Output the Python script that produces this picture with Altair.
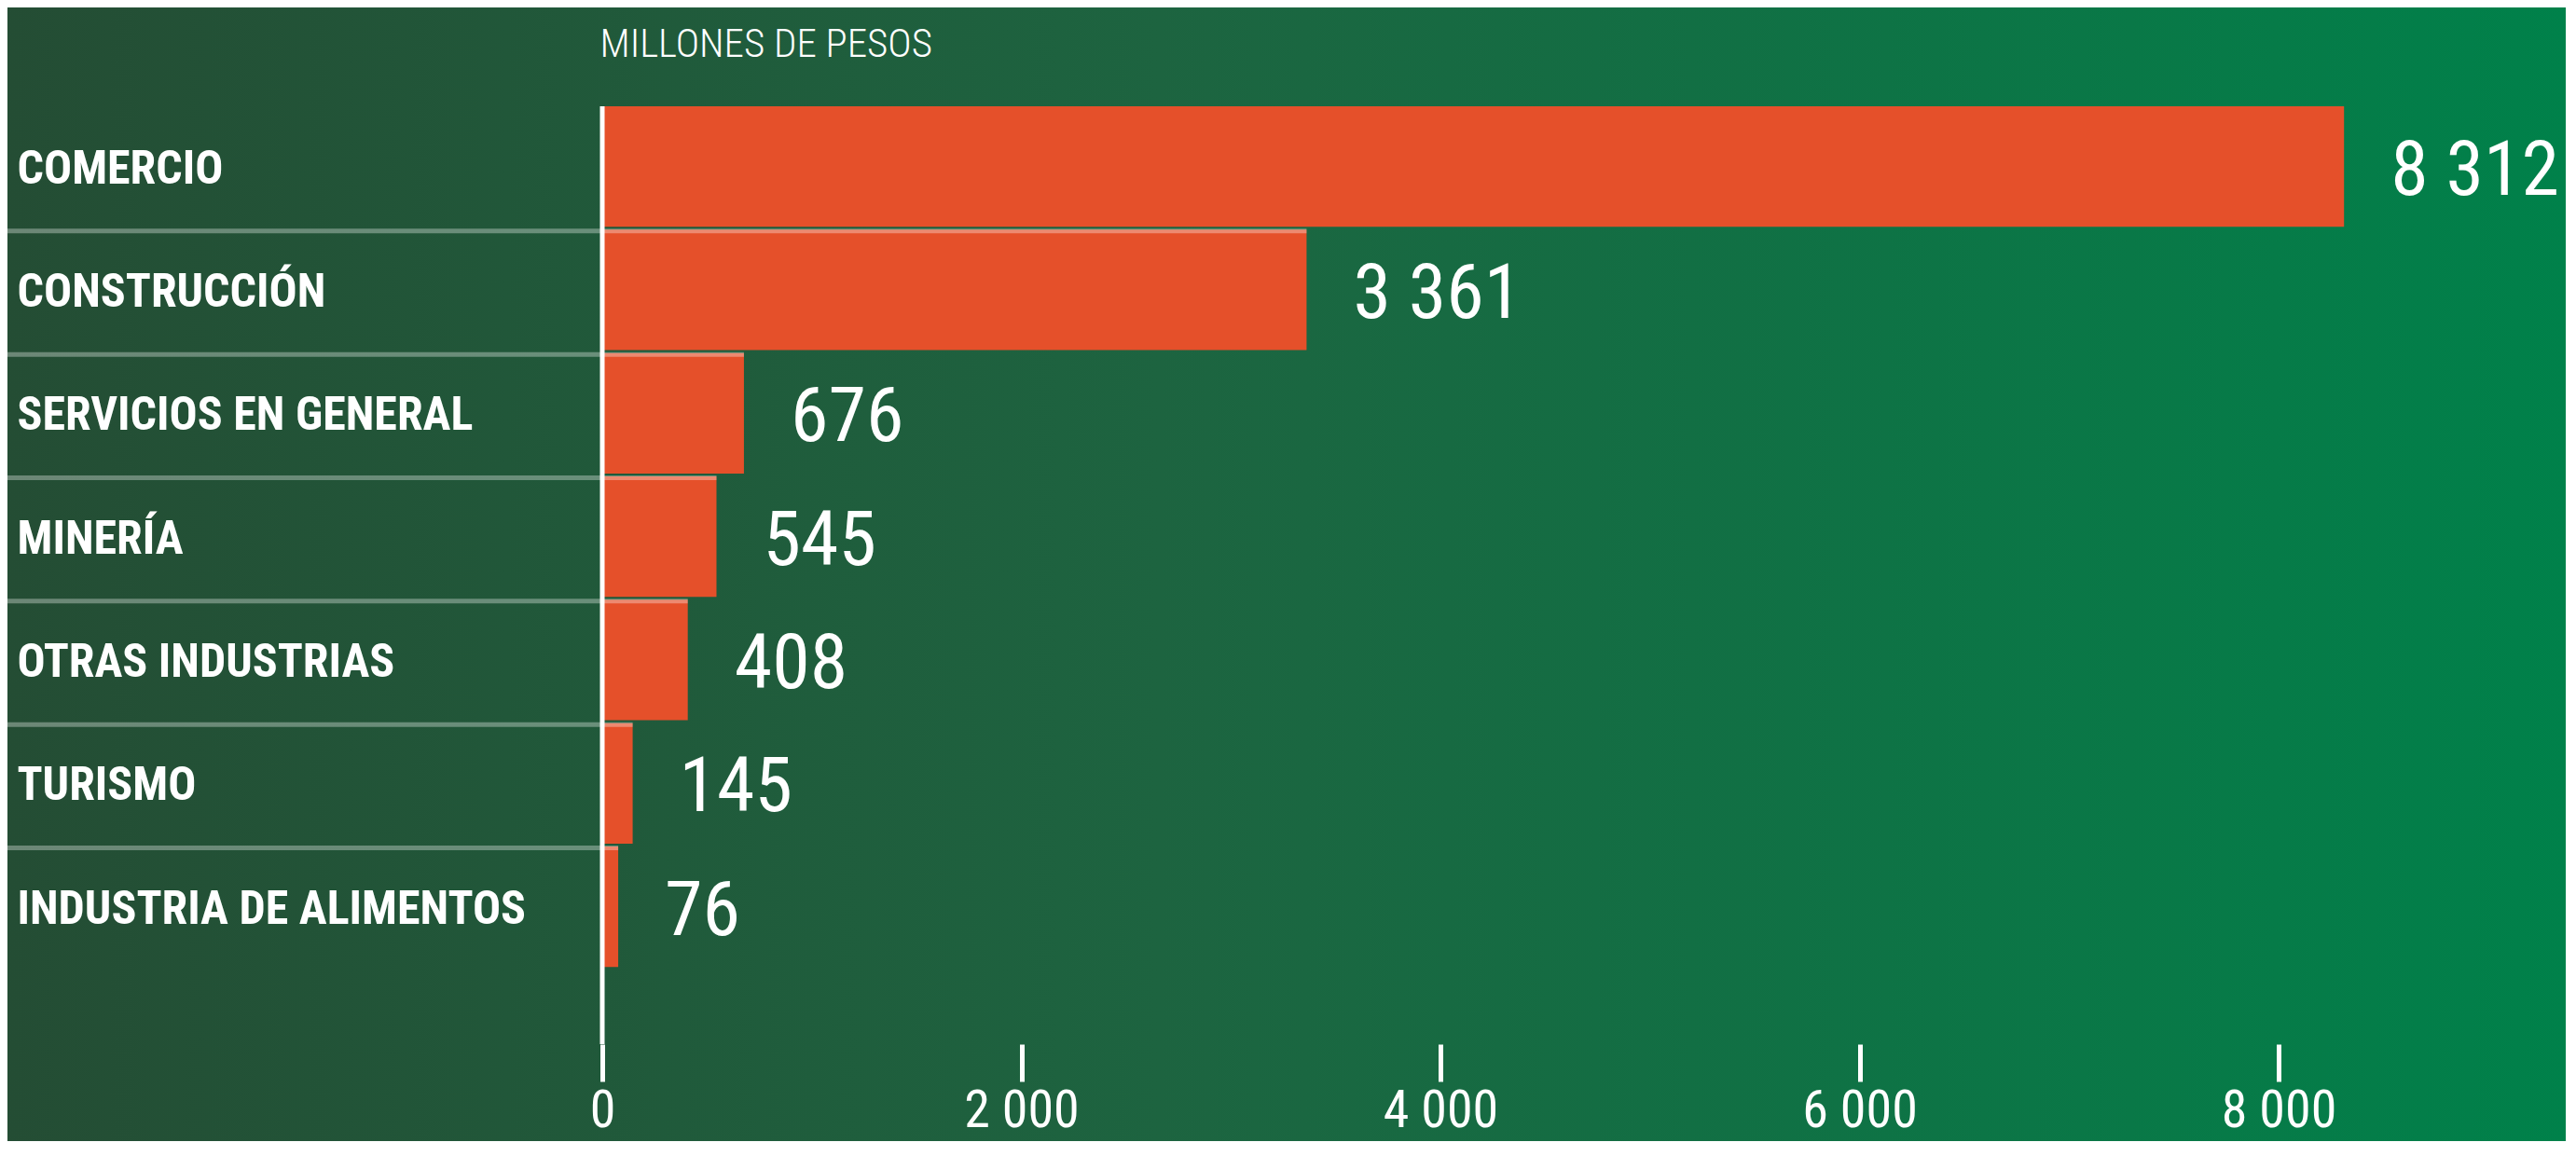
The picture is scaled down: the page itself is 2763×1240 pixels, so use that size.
import altair as alt
import pandas as pd

# ---- data ----
categories = ["COMERCIO", "CONSTRUCCIÓN", "SERVICIOS EN GENERAL", "MINERÍA",
              "OTRAS INDUSTRIAS", "TURISMO", "INDUSTRIA DE ALIMENTOS"]
values = [8312, 3361, 676, 545, 408, 145, 76]
tick_values = [0, 2000, 4000, 6000, 8000]
unit_label = "MILLONES DE PESOS"

value_labels = [f"{v:,}".replace(",", " ") for v in values]
df = pd.DataFrame({"cat": categories, "value": values,
                   "label": value_labels, "order": list(range(len(values)))})

# ---- layout ----
W, H = 2106, 1006
PAD_L, PAD_T, PAD_R, PAD_B = 638, 106, 0, 104
FONT = "Roboto Condensed, Liberation Sans Narrow, DejaVu Sans Condensed, Roboto, sans-serif"
BAR = "#E5502A"

x_scale = alt.Scale(domain=[0, 9370], nice=False, zero=True)
y_scale = alt.Scale(domain=categories, paddingInner=0.023, paddingOuter=0.3125, align=0)

grad = alt.LinearGradient(
    gradient="linear",
    stops=[alt.GradientStop(color="#244d34", offset=0),
           alt.GradientStop(color="#1d6440", offset=0.45),
           alt.GradientStop(color="#00814a", offset=1)],
    x1=0, x2=1, y1=0, y2=0,
)

bg = alt.Chart(pd.DataFrame({"k": [0]})).mark_rect(fill=grad).encode(
    x=alt.value(-PAD_L), x2=alt.value(W + PAD_R),
    y=alt.value(-PAD_T), y2=alt.value(H + PAD_B),
)

base = alt.Chart(df)

bars = base.mark_bar(color=BAR).encode(
    x=alt.X("value:Q", scale=x_scale,
            axis=alt.Axis(values=tick_values, title=None, domain=False, grid=False,
                          tickSize=40, tickWidth=5, tickColor="white",
                          labelExpr="replace(format(datum.value, ','), ',', ' ')",
                          labelFont=FONT, labelFontSize=56, labelColor="white",
                          labelPadding=4, labelFlush=False, labelOverlap=False,
                          zindex=1)),
    y=alt.Y("cat:N", scale=y_scale, sort=None,
            axis=alt.Axis(ticks=False, domain=False, grid=False,
                          labelAlign="left", labelBaseline="middle", labelOffset=3,
                          labelPadding=628, labelFont=FONT, labelFontSize=50,
                          labelFontWeight="bold", labelColor="white", labelLimit=1000,
                          title=unit_label, titleX=-3, titleY=-67, titleAngle=0,
                          titleAlign="left", titleBaseline="middle",
                          titleFont=FONT, titleFontSize=43, titleFontWeight=300,
                          titleColor="white", zindex=1)),
)

seps = base.transform_filter("datum.order > 0").mark_rule(
    color="white", opacity=0.33, strokeWidth=5, yOffset=1.5
).encode(
    x=alt.X("value:Q", scale=x_scale),
    x2=alt.value(-PAD_L),
    y=alt.Y("cat:N", scale=y_scale, sort=None, bandPosition=0),
)

zero = alt.Chart(pd.DataFrame({"z": [0]})).mark_rule(color="white", strokeWidth=5).encode(
    x=alt.X("z:Q", scale=x_scale)
)

text = base.mark_text(align="left", baseline="middle", dx=50, dy=5,
                      font=FONT, fontSize=82, color="white").encode(
    x=alt.X("value:Q", scale=x_scale),
    y=alt.Y("cat:N", scale=y_scale, sort=None),
    text="label:N",
)

chart = alt.layer(bg, bars, seps, zero, text).properties(
    width=W, height=H,
    padding={"left": PAD_L, "top": PAD_T, "right": PAD_R, "bottom": PAD_B},
    autosize=alt.AutoSizeParams(type="none"),
    background="#245035",
).configure_view(stroke=None)

chart.save("out.html", embed_options={"renderer": "svg", "actions": False})
